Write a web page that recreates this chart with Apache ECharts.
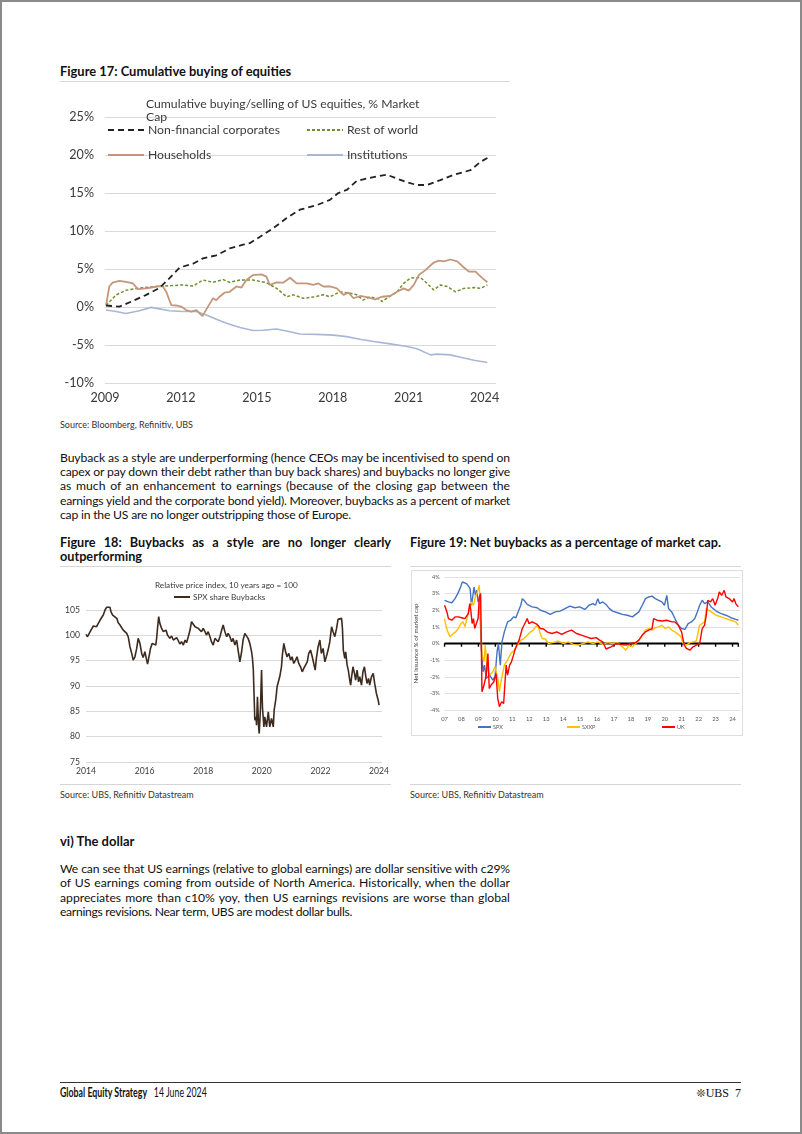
<!DOCTYPE html>
<html><head><meta charset="utf-8">
<script src="https://cdn.jsdelivr.net/npm/echarts/dist/echarts.min.js"></script>
<style>
html,body{margin:0;padding:0;background:#fff;}
#page{position:relative;width:802px;height:1134px;overflow:hidden;font-family:Lato,"Open Sans",sans-serif;color:#111;}
#frame{position:absolute;left:0;top:0;width:802px;height:1134px;box-sizing:border-box;border:2px solid #8a8a8a;pointer-events:none;}
.t{position:absolute;white-space:nowrap;}
.b{font-weight:bold;}
.hr{position:absolute;height:1px;background:#d6d6d6;}
.jl{position:absolute;white-space:nowrap;font-size:12.2px;line-height:14px;}
.chart{position:absolute;}
</style>
</head><body>
<div id="page">
  <div class="t b" style="left:60px;top:64px;font-size:12.9px;line-height:14px;">Figure 17: Cumulative buying of equities</div>
  <div class="hr" style="left:60px;top:81px;width:450px;"></div>
  <div id="c17" class="chart" style="left:60px;top:88px;width:450px;height:322px;"></div>
  <div class="t" style="left:60px;top:419px;font-size:9px;line-height:12px;color:#333;">Source: Bloomberg, Refinitiv, UBS</div>

  <div class="jl" data-w="450" style="left:60px;top:451px;">Buyback as a style are underperforming (hence CEOs may be incentivised to spend on</div>
  <div class="jl" data-w="450" style="left:60px;top:465px;">capex or pay down their debt rather than buy back shares) and buybacks no longer give</div>
  <div class="jl" data-w="450" style="left:60px;top:479px;">as much of an enhancement to earnings (because of the closing gap between the</div>
  <div class="jl" data-w="450" style="left:60px;top:493.5px;">earnings yield and the corporate bond yield). Moreover, buybacks as a percent of market</div>
  <div class="jl" data-w="291" style="left:60px;top:508px;">cap in the US are no longer outstripping those of Europe.</div>

  <div class="jl b" data-w="331" style="left:60px;top:535px;font-size:12.7px;">Figure 18: Buybacks as a style are no longer clearly</div>
  <div class="jl b" style="left:60px;top:549px;font-size:12.7px;">outperforming</div>
  <div class="jl b" data-w="311" style="left:410px;top:535px;font-size:12.7px;">Figure 19: Net buybacks as a percentage of market cap.</div>
  <div class="hr" style="left:60px;top:566px;width:331px;"></div>
  <div class="hr" style="left:410px;top:566px;width:331px;"></div>

  <div id="c18" class="chart" style="left:60px;top:570px;width:340px;height:212px;"></div>
  <div style="position:absolute;left:411px;top:570px;width:332px;height:166px;border:1px solid #dedede;box-sizing:border-box;"></div>
  <div id="c19" class="chart" style="left:405px;top:565px;width:345px;height:180px;"></div>

  <div class="hr" style="left:60px;top:784px;width:331px;"></div>
  <div class="hr" style="left:410px;top:784px;width:331px;"></div>
  <div class="t" style="left:60px;top:789px;font-size:9px;line-height:12px;color:#333;">Source: UBS, Refinitiv Datastream</div>
  <div class="t" style="left:410px;top:789px;font-size:9px;line-height:12px;color:#333;">Source: UBS, Refinitiv Datastream</div>

  <div class="t b" style="left:60px;top:833px;font-size:13px;line-height:16px;">vi) The dollar</div>
  <div class="jl" data-w="450" style="left:60px;top:862px;">We can see that US earnings (relative to global earnings) are dollar sensitive with c29%</div>
  <div class="jl" data-w="450" style="left:60px;top:876px;">of US earnings coming from outside of North America. Historically, when the dollar</div>
  <div class="jl" data-w="450" style="left:60px;top:890.5px;">appreciates more than c10% yoy, then US earnings revisions are worse than global</div>
  <div class="jl" data-w="292" style="left:60px;top:905px;">earnings revisions. Near term, UBS are modest dollar bulls.</div>

  <div style="position:absolute;left:60px;top:1082px;width:681px;height:1px;background:#333;"></div>
  <div class="t" style="left:60px;top:1086px;font-size:12.4px;line-height:14px;transform:scaleX(0.71);transform-origin:0 0;"><span class="b">Global Equity Strategy</span>&nbsp;&nbsp;&nbsp;14 June 2024</div>
  <div class="t" style="right:61px;top:1086px;font-size:12px;line-height:14px;font-family:'Liberation Serif',serif;"><span style="font-family:'DejaVu Sans';font-size:11px;">&#10058;</span>UBS&nbsp;&nbsp;7</div>
  <div id="frame"></div>
</div>
<script>
// ---------- Figure 17 data (% of market cap) ----------
const fig17Ticks = [2009, 2012, 2015, 2018, 2021, 2024];
const nonFinancial = [[2009.04,0.2],[2009.57,0.05],[2010.03,0.7],[2010.63,1.6],[2011.15,2.5],[2011.55,3.8],[2011.95,5.2],[2012.48,5.7],[2012.87,6.4],[2013.40,6.8],[2013.93,7.7],[2014.46,8.2],[2014.72,8.4],[2015.25,9.5],[2015.64,10.35],[2016.18,11.7],[2016.70,12.8],[2017.37,13.4],[2017.89,14.1],[2018.22,15.0],[2018.55,15.4],[2018.95,16.6],[2019.61,17.1],[2020.14,17.4],[2020.54,16.9],[2020.93,16.4],[2021.33,16.05],[2021.73,16.05],[2022.25,16.7],[2022.78,17.4],[2023.44,18.0],[2023.84,19.1],[2024.11,19.6]];
const restOfWorld = [[2009.04,0.2],[2009.44,1.6],[2009.83,2.2],[2010.36,2.5],[2011.02,2.7],[2011.55,2.8],[2012.08,2.9],[2012.48,2.75],[2012.87,3.55],[2013.27,3.25],[2013.67,3.6],[2013.93,3.25],[2014.33,3.55],[2014.85,3.55],[2015.38,3.2],[2015.78,2.45],[2016.18,1.35],[2016.44,1.6],[2016.84,1.15],[2017.23,1.3],[2017.63,1.6],[2017.89,1.35],[2018.29,2.0],[2018.69,1.8],[2018.95,1.6],[2019.20,0.9],[2019.48,1.35],[2019.88,1.0],[2019.94,0.7],[2020.27,1.45],[2020.54,2.0],[2020.80,3.1],[2021.07,3.8],[2021.46,3.9],[2021.73,3.1],[2021.99,2.25],[2022.25,2.9],[2022.52,2.7],[2022.85,2.0],[2023.18,2.45],[2023.58,2.55],[2023.84,2.45],[2024.11,2.9]];
const households = [[2009.04,0.2],[2009.17,2.7],[2009.30,3.2],[2009.57,3.45],[2009.83,3.3],[2010.10,3.1],[2010.30,2.35],[2010.63,2.45],[2010.89,2.6],[2011.15,2.75],[2011.29,2.7],[2011.42,2.0],[2011.62,0.25],[2011.81,0.2],[2012.01,0.05],[2012.21,-0.4],[2012.41,-0.6],[2012.61,-0.4],[2012.85,-1.2],[2013.07,0.05],[2013.27,1.15],[2013.40,0.9],[2013.53,1.35],[2013.73,1.9],[2013.93,2.0],[2014.19,2.7],[2014.39,2.55],[2014.59,3.55],[2014.85,4.2],[2015.18,4.3],[2015.38,4.0],[2015.51,2.9],[2015.78,3.25],[2016.04,3.2],[2016.31,3.85],[2016.57,3.1],[2016.97,3.1],[2017.23,2.9],[2017.43,3.1],[2017.63,2.7],[2017.89,2.7],[2018.16,2.45],[2018.42,1.6],[2018.62,1.9],[2018.82,1.15],[2019.08,1.45],[2019.35,1.3],[2019.68,1.0],[2019.94,1.35],[2020.27,1.45],[2020.54,2.0],[2020.80,2.45],[2021.00,2.15],[2021.20,2.9],[2021.40,4.2],[2021.66,4.85],[2021.99,5.85],[2022.19,6.1],[2022.39,6.0],[2022.65,6.25],[2022.92,6.0],[2023.18,5.2],[2023.38,4.65],[2023.64,4.65],[2023.91,3.8],[2024.11,3.25]];
const institutions = [[2009.04,-0.4],[2009.44,-0.6],[2009.83,-0.85],[2010.36,-0.5],[2010.82,-0.05],[2011.15,-0.25],[2011.55,-0.5],[2012.08,-0.6],[2012.61,-0.6],[2013.00,-1.05],[2013.40,-1.6],[2013.80,-2.15],[2014.33,-2.7],[2014.85,-3.1],[2015.25,-3.05],[2015.78,-2.9],[2016.31,-3.25],[2016.70,-3.55],[2017.37,-3.6],[2018.03,-3.7],[2018.55,-3.9],[2019.08,-4.25],[2019.61,-4.55],[2020.27,-4.85],[2020.93,-5.2],[2021.33,-5.5],[2021.86,-6.3],[2022.12,-6.2],[2022.65,-6.3],[2023.05,-6.6],[2023.58,-7.0],[2024.11,-7.3]];

// ---------- Figure 18 data (relative price index) ----------
const fig18Ticks = [2014, 2016, 2018, 2020, 2022, 2024];
const spxBuybacks = [[2014.00,100.19],[2014.05,99.73],[2014.11,100.06],[2014.17,101.04],[2014.25,101.84],[2014.31,102.23],[2014.36,101.70],[2014.42,102.36],[2014.48,103.02],[2014.53,103.35],[2014.59,104.01],[2014.65,105.00],[2014.70,105.53],[2014.76,105.66],[2014.82,105.53],[2014.85,104.67],[2014.91,104.01],[2014.97,103.68],[2015.05,103.35],[2015.10,102.49],[2015.16,102.03],[2015.22,101.70],[2015.27,101.04],[2015.33,100.72],[2015.39,100.39],[2015.44,99.73],[2015.50,97.75],[2015.56,96.43],[2015.61,95.11],[2015.67,95.77],[2015.73,97.42],[2015.78,99.40],[2015.84,98.41],[2015.90,96.43],[2015.95,95.64],[2016.01,96.76],[2016.07,95.11],[2016.10,94.32],[2016.16,96.10],[2016.20,97.42],[2016.26,98.41],[2016.32,98.74],[2016.38,98.08],[2016.41,99.40],[2016.44,101.37],[2016.48,103.68],[2016.52,102.36],[2016.58,101.37],[2016.64,100.72],[2016.73,101.04],[2016.78,100.06],[2016.86,99.40],[2016.92,99.86],[2016.98,99.07],[2017.03,98.74],[2017.09,99.53],[2017.15,98.94],[2017.20,98.28],[2017.26,98.74],[2017.32,98.08],[2017.38,99.07],[2017.43,98.54],[2017.49,99.73],[2017.55,101.04],[2017.60,102.69],[2017.66,102.36],[2017.72,101.70],[2017.77,102.03],[2017.83,101.37],[2017.89,101.70],[2017.94,100.72],[2018.00,101.37],[2018.06,100.72],[2018.11,100.06],[2018.17,100.72],[2018.23,99.73],[2018.28,98.74],[2018.34,98.08],[2018.40,99.40],[2018.45,99.73],[2018.51,98.74],[2018.57,99.73],[2018.63,101.04],[2018.68,102.03],[2018.74,100.72],[2018.80,99.73],[2018.85,100.39],[2018.91,99.73],[2018.97,98.74],[2019.02,99.40],[2019.08,98.08],[2019.14,99.07],[2019.19,97.09],[2019.25,94.78],[2019.31,96.76],[2019.36,99.07],[2019.42,100.39],[2019.48,100.72],[2019.53,99.40],[2019.59,98.41],[2019.65,96.76],[2019.68,95.44],[2019.71,93.13],[2019.73,89.18],[2019.76,83.25],[2019.80,83.91],[2019.82,82.26],[2019.85,87.86],[2019.89,81.93],[2019.91,80.61],[2019.95,85.22],[2019.99,93.13],[2020.02,85.88],[2020.07,81.93],[2020.10,83.91],[2020.16,81.93],[2020.22,84.89],[2020.27,81.93],[2020.33,83.58],[2020.39,81.93],[2020.42,85.22],[2020.48,87.53],[2020.52,89.84],[2020.58,89.51],[2020.61,91.82],[2020.67,93.79],[2020.70,96.10],[2020.75,98.41],[2020.81,96.76],[2020.86,95.77],[2020.92,96.43],[2020.98,95.11],[2021.03,95.77],[2021.09,94.45],[2021.15,95.11],[2021.20,95.77],[2021.26,94.45],[2021.32,93.79],[2021.38,92.80],[2021.43,93.46],[2021.49,93.13],[2021.55,94.78],[2021.60,96.43],[2021.66,97.09],[2021.72,95.77],[2021.77,94.45],[2021.82,93.13],[2021.86,95.44],[2021.92,97.75],[2021.98,99.07],[2022.03,96.43],[2022.09,97.42],[2022.15,94.78],[2022.20,95.77],[2022.26,97.09],[2022.32,98.74],[2022.38,101.70],[2022.43,100.72],[2022.49,99.73],[2022.55,101.37],[2022.60,103.15],[2022.66,103.02],[2022.72,103.35],[2022.75,101.37],[2022.78,97.09],[2022.83,95.44],[2022.86,96.76],[2022.91,94.12],[2022.95,93.13],[2023.00,91.16],[2023.03,90.17],[2023.07,92.15],[2023.11,93.79],[2023.16,92.48],[2023.20,91.16],[2023.25,93.13],[2023.30,90.83],[2023.34,91.82],[2023.40,90.17],[2023.45,92.80],[2023.50,93.79],[2023.55,91.82],[2023.59,90.50],[2023.64,91.49],[2023.68,90.17],[2023.74,91.82],[2023.80,92.48],[2023.85,90.50],[2023.91,88.52],[2023.97,87.20],[2024.00,86.21]];

// ---------- Figure 19 data (net issuance, % of market cap) ----------
const fig19Years = [2007,2008,2009,2010,2011,2012,2013,2014,2015,2016,2017,2018,2019,2020,2021,2022,2023,2024];
const spx = [[2007.00,2.6],[2007.23,2.5],[2007.43,2.45],[2007.62,2.7],[2007.78,3.0],[2007.91,3.3],[2008.05,3.7],[2008.16,3.8],[2008.30,3.6],[2008.40,3.7],[2008.51,3.3],[2008.59,2.3],[2008.65,2.7],[2008.74,3.4],[2008.82,2.9],[2008.90,3.2],[2008.98,2.5],[2009.07,2.7],[2009.17,-0.3],[2009.27,-1.7],[2009.36,-1.3],[2009.46,-2.1],[2009.66,-1.9],[2009.85,-2.2],[2009.98,-2.0],[2010.10,-0.5],[2010.18,0.0],[2010.29,-1.3],[2010.39,0.1],[2010.53,0.7],[2010.72,1.3],[2010.91,1.4],[2011.07,1.6],[2011.21,1.55],[2011.34,1.9],[2011.50,2.3],[2011.59,2.7],[2011.73,2.55],[2011.88,2.35],[2012.17,2.2],[2012.47,2.15],[2012.66,2.0],[2012.95,1.9],[2013.24,1.75],[2013.53,1.9],[2013.82,1.95],[2014.11,2.1],[2014.40,2.25],[2014.69,2.15],[2014.98,2.2],[2015.28,2.05],[2015.53,2.3],[2015.76,2.4],[2015.91,2.3],[2016.05,2.7],[2016.15,2.4],[2016.34,2.5],[2016.53,2.35],[2016.73,2.1],[2016.92,1.95],[2017.21,1.85],[2017.50,1.75],[2017.79,1.7],[2018.09,1.6],[2018.28,1.75],[2018.47,1.9],[2018.67,2.3],[2018.86,2.7],[2019.05,2.8],[2019.25,2.85],[2019.44,2.7],[2019.64,2.6],[2019.83,2.5],[2019.98,2.3],[2020.12,2.9],[2020.22,2.1],[2020.41,1.9],[2020.60,1.5],[2020.80,1.1],[2020.99,0.9],[2021.19,0.85],[2021.38,1.2],[2021.57,1.3],[2021.77,1.5],[2021.92,1.9],[2022.06,2.3],[2022.21,2.6],[2022.35,2.4],[2022.54,2.5],[2022.74,2.2],[2023.03,1.95],[2023.32,1.8],[2023.61,1.7],[2023.90,1.55],[2024.19,1.45],[2024.34,1.4]];
const sxxp = [[2007.00,1.5],[2007.08,1.1],[2007.19,0.7],[2007.33,0.4],[2007.52,0.6],[2007.66,0.7],[2007.81,0.9],[2007.97,1.2],[2008.10,1.3],[2008.20,1.0],[2008.30,1.4],[2008.40,1.5],[2008.49,2.2],[2008.59,2.5],[2008.71,2.3],[2008.82,2.8],[2008.94,3.1],[2009.05,3.5],[2009.13,1.7],[2009.21,-0.7],[2009.33,-1.1],[2009.40,-0.1],[2009.52,-1.5],[2009.66,-1.9],[2009.85,-1.7],[2009.98,-1.4],[2010.14,-2.1],[2010.24,-2.9],[2010.33,-2.3],[2010.53,-1.3],[2010.72,-1.0],[2010.91,-0.6],[2011.11,-0.4],[2011.30,-0.1],[2011.50,0.2],[2011.69,0.3],[2011.88,0.5],[2012.08,0.7],[2012.23,0.8],[2012.37,1.0],[2012.50,1.1],[2012.62,0.7],[2012.76,0.3],[2012.95,0.27],[2013.14,0.0],[2013.43,0.07],[2013.72,0.15],[2014.02,0.0],[2014.31,0.1],[2014.60,-0.05],[2014.89,-0.1],[2015.18,0.0],[2015.47,0.1],[2015.76,0.0],[2016.05,0.1],[2016.34,-0.05],[2016.63,0.05],[2016.92,0.0],[2017.21,0.05],[2017.50,-0.2],[2017.70,-0.4],[2017.89,-0.1],[2018.09,-0.2],[2018.28,0.0],[2018.47,0.2],[2018.67,0.5],[2018.86,0.8],[2019.05,0.9],[2019.25,0.8],[2019.44,0.95],[2019.64,1.0],[2019.83,1.1],[2020.02,0.9],[2020.22,1.0],[2020.41,0.8],[2020.60,0.7],[2020.80,0.55],[2020.95,0.4],[2021.09,0.0],[2021.28,-0.1],[2021.48,0.05],[2021.67,0.1],[2021.86,0.15],[2021.96,0.2],[2022.06,1.1],[2022.16,1.2],[2022.35,1.3],[2022.45,2.1],[2022.54,2.0],[2022.74,1.9],[2023.03,1.7],[2023.32,1.6],[2023.61,1.5],[2023.90,1.4],[2024.19,1.3],[2024.34,1.1]];
const uk = [[2007.00,2.3],[2007.14,1.9],[2007.23,1.5],[2007.43,1.4],[2007.62,1.6],[2007.81,1.6],[2008.01,1.55],[2008.20,1.5],[2008.30,1.6],[2008.40,1.8],[2008.49,2.4],[2008.55,2.0],[2008.63,1.2],[2008.71,1.5],[2008.78,0.9],[2008.88,1.2],[2008.98,1.5],[2009.05,2.8],[2009.13,3.0],[2009.21,-2.9],[2009.33,-2.5],[2009.46,-1.9],[2009.56,-0.6],[2009.64,-2.7],[2009.75,-2.5],[2009.91,-2.3],[2010.04,-1.8],[2010.14,-3.3],[2010.24,-3.8],[2010.37,-3.5],[2010.49,-3.6],[2010.57,-2.3],[2010.64,-1.3],[2010.72,-1.9],[2010.84,-1.3],[2010.95,-1.1],[2011.07,-0.7],[2011.15,-0.4],[2011.26,-0.1],[2011.40,0.2],[2011.50,0.3],[2011.59,0.9],[2011.69,1.1],[2011.79,1.0],[2011.88,1.5],[2011.98,1.2],[2012.17,1.3],[2012.47,1.15],[2012.66,0.9],[2012.85,0.87],[2013.05,0.7],[2013.34,0.6],[2013.63,0.7],[2013.92,0.55],[2014.21,0.7],[2014.50,0.8],[2014.79,0.6],[2015.08,0.5],[2015.37,0.4],[2015.66,0.3],[2015.95,0.35],[2016.15,0.2],[2016.34,0.1],[2016.53,-0.33],[2016.83,-0.2],[2017.12,0.0],[2017.41,-0.05],[2017.70,-0.1],[2017.99,0.0],[2018.28,0.05],[2018.47,0.2],[2018.67,0.5],[2018.86,0.7],[2019.05,0.8],[2019.25,0.9],[2019.34,1.5],[2019.54,1.4],[2019.83,1.35],[2020.12,1.4],[2020.41,1.3],[2020.60,1.3],[2020.80,1.1],[2020.99,0.7],[2021.15,-0.1],[2021.28,-0.3],[2021.48,-0.4],[2021.67,-0.2],[2021.86,-0.1],[2022.06,0.0],[2022.21,0.9],[2022.35,1.1],[2022.45,1.7],[2022.54,2.6],[2022.70,2.5],[2022.83,2.7],[2022.97,2.3],[2023.12,2.7],[2023.22,3.1],[2023.36,2.9],[2023.51,3.2],[2023.61,2.8],[2023.80,2.7],[2024.00,2.5],[2024.09,2.7],[2024.19,2.4],[2024.34,2.2]];
const zeroLine = [2007,2008,2009,2010,2011,2012,2013,2014,2015,2016,2017,2018,2019,2020,2021,2022,2023,2024,2024.34];

// ---------- line justification (word spacing if room, letter spacing if tight) ----------
document.querySelectorAll('.jl[data-w]').forEach(el => {
  const target = parseFloat(el.dataset.w);
  const text = el.textContent;
  const spaces = (text.match(/ /g) || []).length;
  const natural = el.getBoundingClientRect().width;
  const diff = target - natural;
  if (diff >= 0) {
    if (spaces > 0) el.style.wordSpacing = (diff / spaces) + 'px';
  } else {
    el.style.letterSpacing = (diff / text.length) + 'px';
    const w2 = el.getBoundingClientRect().width;
    if (spaces > 0) el.style.wordSpacing = ((target - w2) / spaces) + 'px';
  }
});

const FONT = 'Lato';
const noSymbolLegend = {opacity: 0};
// ---------- Chart 17 ----------
const c17 = echarts.init(document.getElementById('c17'));
const line17 = (name, data, color, width, type) => ({
  name, type: 'line', data, showSymbol: false, symbol: 'none',
  lineStyle: {color, width, type}, itemStyle: {color}
});
const lg17 = (names, left) => ({data: names, orient: 'vertical', left, top: 31, itemWidth: 36, itemHeight: 12, itemGap: 13,
  itemStyle: noSymbolLegend, textStyle: {fontFamily: FONT, fontSize: 12.2, color: '#3a3a3a', padding: [0,0,0,-1]}});
c17.setOption({
  animation: false,
  title: {text: 'Cumulative buying/selling of US equities, % Market\nCap', left: 81, top: 5,
    textStyle: {fontFamily: FONT, fontSize: 12.2, fontWeight: 'normal', color: '#3a3a3a', lineHeight: 13}},
  legend: [lg17(['Non-financial corporates', 'Households'], 42), lg17(['Rest of world', 'Institutions'], 241)],
  grid: {left: 45, top: 29, width: 391, height: 266},
  xAxis: {type: 'value', min: 2009, max: 2024.45, interval: 3,
    axisLine: {show: false}, axisTick: {show: false}, splitLine: {show: false},
    axisLabel: {fontFamily: FONT, fontSize: 12.6, color: '#3a3a3a', margin: 8, showMaxLabel: false,
      formatter: v => fig17Ticks.includes(v) ? String(v) : ''}},
  yAxis: {type: 'value', min: -10, max: 25, interval: 5,
    axisLine: {show: false}, axisTick: {show: false},
    splitLine: {lineStyle: {color: '#d9d9d9', width: 1}},
    axisLabel: {fontFamily: FONT, fontSize: 12.6, color: '#3a3a3a', margin: 11, formatter: '{value}%'}},
  series: [
    line17('Institutions', institutions, '#a9b7d6', 1.6, 'solid'),
    line17('Rest of world', restOfWorld, '#6f8f2f', 1.5, [3, 2]),
    line17('Households', households, '#c4977a', 1.8, 'solid'),
    line17('Non-financial corporates', nonFinancial, '#222222', 1.8, [6, 4])
  ]
});

// ---------- Chart 18 ----------
const c18 = echarts.init(document.getElementById('c18'));
c18.setOption({
  animation: false,
  title: {text: 'Relative price index, 10 years ago = 100', left: 90, top: 6,
    textStyle: {fontFamily: FONT, fontSize: 8.2, fontWeight: 'normal', color: '#3a3a3a'}},
  legend: {data: ['SPX share Buybacks'], left: 108, top: 18, itemWidth: 16, itemHeight: 8, itemStyle: noSymbolLegend,
    textStyle: {fontFamily: FONT, fontSize: 8.2, color: '#3a3a3a', padding: [0,0,0,-2]}},
  grid: {left: 26, top: 40, width: 296, height: 152},
  xAxis: {type: 'value', min: 2014, max: 2024.1, interval: 2,
    axisLine: {show: false}, axisTick: {show: false}, splitLine: {show: false},
    axisLabel: {fontFamily: FONT, fontSize: 8.6, color: '#3a3a3a', margin: 5, showMaxLabel: false,
      formatter: v => fig18Ticks.includes(v) ? String(v) : ''}},
  yAxis: {type: 'value', min: 75, max: 105, interval: 5,
    axisLine: {show: false}, axisTick: {show: false},
    splitLine: {lineStyle: {color: '#d9d9d9', width: 1}},
    axisLabel: {fontFamily: FONT, fontSize: 8.6, color: '#3a3a3a', margin: 6}},
  series: [{name: 'SPX share Buybacks', type: 'line', data: spxBuybacks, showSymbol: false, symbol: 'none',
    clip: false, lineStyle: {color: '#3d2b1f', width: 1.6}, itemStyle: {color: '#3d2b1f'}}]
});

// ---------- Chart 19 ----------
const c19 = echarts.init(document.getElementById('c19'));
const line19 = (name, data, color) => ({name, type: 'line', data, showSymbol: false, symbol: 'none',
  lineStyle: {color, width: 1.4}, itemStyle: {color}});
const lg19 = (name, left) => ({data: [name], left, bottom: 10, itemWidth: 13, itemHeight: 6, itemGap: 0, itemStyle: noSymbolLegend,
  textStyle: {fontFamily: FONT, fontSize: 5.5, color: '#595959', padding: [0,0,0,-3]}});
c19.setOption({
  animation: false,
  legend: [lg19('SPX', 67), lg19('SXXP', 156), lg19('UK', 251)],
  grid: {left: 35, top: 12, width: 300, height: 133},
  xAxis: {type: 'value', min: 2007, max: 2024.44, interval: 1,
    axisLine: {show: false}, axisTick: {show: false}, splitLine: {show: false},
    axisLabel: {fontFamily: FONT, fontSize: 5.8, color: '#595959', margin: 6, showMaxLabel: false,
      formatter: v => fig19Years.includes(v) ? String(v).slice(2) : ''}},
  yAxis: {type: 'value', min: -4, max: 4, interval: 1,
    name: 'Net issuance % of market cap', nameLocation: 'middle', nameGap: 19, nameRotate: 90,
    nameTextStyle: {fontFamily: FONT, fontSize: 6.2, color: '#404040'},
    axisLine: {show: false}, axisTick: {show: false},
    splitLine: {lineStyle: {color: '#e0e0e0', width: 1}},
    axisLabel: {fontFamily: FONT, fontSize: 5.5, color: '#595959', margin: 5, formatter: '{value}%'}},
  series: [
    {name: 'zero', type: 'line', data: zeroLine.map(y => [y, 0]), symbol: 'rect', symbolSize: [1.4, 3.5], symbolOffset: [0, 1.5],
      showAllSymbol: true, lineStyle: {color: '#000', width: 2}, itemStyle: {color: '#000'}, z: 1},
    line19('SPX', spx, '#4472c4'),
    line19('SXXP', sxxp, '#ffc000'),
    line19('UK', uk, '#ff0000')
  ]
});
</script>
</body></html>
